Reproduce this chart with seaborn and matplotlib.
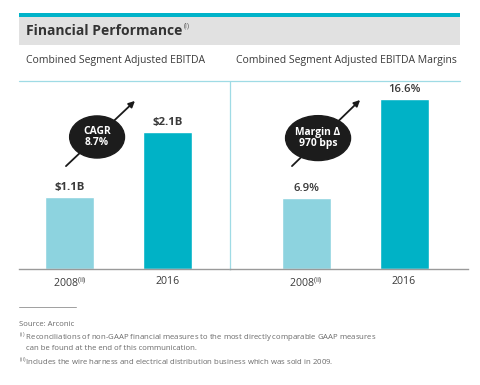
import matplotlib
matplotlib.use("Agg")
import matplotlib.pyplot as plt
from matplotlib.patches import Ellipse, Rectangle
from matplotlib.lines import Line2D
import seaborn as sns

# chart data
years = ["2008", "2016"]
year_labels = [r"2008$^{\mathrm{(ii)}}$", "2016"]
ebitda = [1.1, 2.1]
ebitda_text = [r"\$1.1B", r"\$2.1B"]
margins = [6.9, 16.6]
margin_text = ["6.9%", "16.6%"]

LIGHT = "#8dd3df"
DARK = "#00b2c6"
TEAL_LINE = "#9fdbe5"
TXT = "#3a3a3a"

sns.set_theme(style="white")
plt.rcParams["font.family"] = ["Open Sans", "DejaVu Sans"]
plt.rcParams["mathtext.fontset"] = "custom"
plt.rcParams["mathtext.rm"] = "Open Sans"

W, H = 480, 385
fig = plt.figure(figsize=(4.8, 3.85), dpi=100)


def fx(px):
    return px / W


def fy(py):
    return 1 - py / H


# header band
fig.patches.append(Rectangle((fx(19), fy(17)), fx(441), 4 / H, transform=fig.transFigure,
                             color="#00b3c9", lw=0))
fig.patches.append(Rectangle((fx(19), fy(45)), fx(441), 28 / H, transform=fig.transFigure,
                             color="#e1e1e1", lw=0))
title = fig.text(fx(26), fy(31), "Financial Performance", fontsize=10, fontweight="bold",
                 color="#333333", va="center", ha="left")
bb = title.get_window_extent(renderer=fig.canvas.get_renderer())
fig.text(bb.x1 / W + 0.002, fy(26), "(i)", fontsize=5, color="#555555", va="center", ha="left")

fig.text(fx(26), fy(61), "Combined Segment Adjusted EBITDA", fontsize=7.5, color=TXT, va="center")
fig.text(fx(236), fy(61), "Combined Segment Adjusted EBITDA Margins", fontsize=7.5, color=TXT, va="center")
fig.lines.append(Line2D([fx(19), fx(460)], [fy(81), fy(81)], transform=fig.transFigure,
                        color=TEAL_LINE, lw=0.9))

# panels
ax1 = fig.add_axes([fx(19), fy(269), fx(211), 187 / H])
ax2 = fig.add_axes([fx(230), fy(269), fx(238), 187 / H])

panels = [
    (ax1, ebitda, ebitda_text, (-0.515, 1.638), 2.87, "bold"),
    (ax2, margins, margin_text, (-0.776, 1.653), 18.26, "semibold"),
]
for ax, vals, texts, xlim, ytop, weight in panels:
    sns.barplot(x=years, y=vals, hue=years, palette=[LIGHT, DARK], legend=False,
                width=0.5, saturation=1, ax=ax)
    for cont, t in zip(ax.containers, texts):
        ax.bar_label(cont, labels=[t], padding=3, fontsize=8.2, fontweight=weight, color=TXT)
    ax.set_xlim(*xlim)
    ax.set_ylim(0, ytop)
    ax.set_yticks([])
    ax.set_xticks([0, 1])
    ax.set_xticklabels(year_labels, fontsize=7.6, color=TXT)
    ax.tick_params(axis="x", length=0, pad=5)
    ax.set_xlabel("")
    ax.set_ylabel("")
    for s in ["top", "right", "left"]:
        ax.spines[s].set_visible(False)
    ax.spines["bottom"].set_color("#9a9a9a")
    ax.spines["bottom"].set_linewidth(1.0)
    ax.patch.set_alpha(0)

ax2.spines["left"].set_visible(True)
ax2.spines["left"].set_color(TEAL_LINE)
ax2.spines["left"].set_linewidth(0.9)

# growth call-outs
callouts = [
    (ax1, (0.37, 0.706), 0.26, 0.225, (0.213, 0.54), (0.559, 0.909), "CAGR\n8.7%"),
    (ax2, (0.37, 0.70), 0.273, 0.24, (0.252, 0.54), (0.555, 0.914), "Margin \u0394\n970 bps"),
]
for ax, c, w, h, start, end, label in callouts:
    ax.annotate("", xy=end, xytext=start, xycoords="axes fraction", textcoords="axes fraction",
                arrowprops=dict(arrowstyle="-|>", color="#1a1a1a", lw=1.3, mutation_scale=9),
                zorder=4)
    ax.add_patch(Ellipse(c, w, h, transform=ax.transAxes, color="#1c1c1c", zorder=5, clip_on=False))
    ax.text(c[0], c[1], label, transform=ax.transAxes, ha="center", va="center", color="white",
            fontsize=7.4, fontweight="bold", linespacing=1.05, zorder=6)

# footer
fig.lines.append(Line2D([fx(19), fx(76)], [fy(307), fy(307)], transform=fig.transFigure,
                        color="#a0a0a0", lw=0.7))
foot = dict(fontsize=5.6, color="#6a6a6a", va="center", ha="left")
fig.text(fx(19), fy(325), "Source: Arconic", **foot)
fig.text(fx(19), fy(337), r"$^{\mathrm{(i)}}$ Reconciliations of non-GAAP financial measures to the most directly comparable GAAP measures", **foot)
fig.text(fx(26), fy(349), "can be found at the end of this communication.", **foot)
fig.text(fx(19), fy(361), r"$^{\mathrm{(ii)}}$Includes the wire harness and electrical distribution business which was sold in 2009.", **foot)

fig.savefig("out.png", dpi=100)
